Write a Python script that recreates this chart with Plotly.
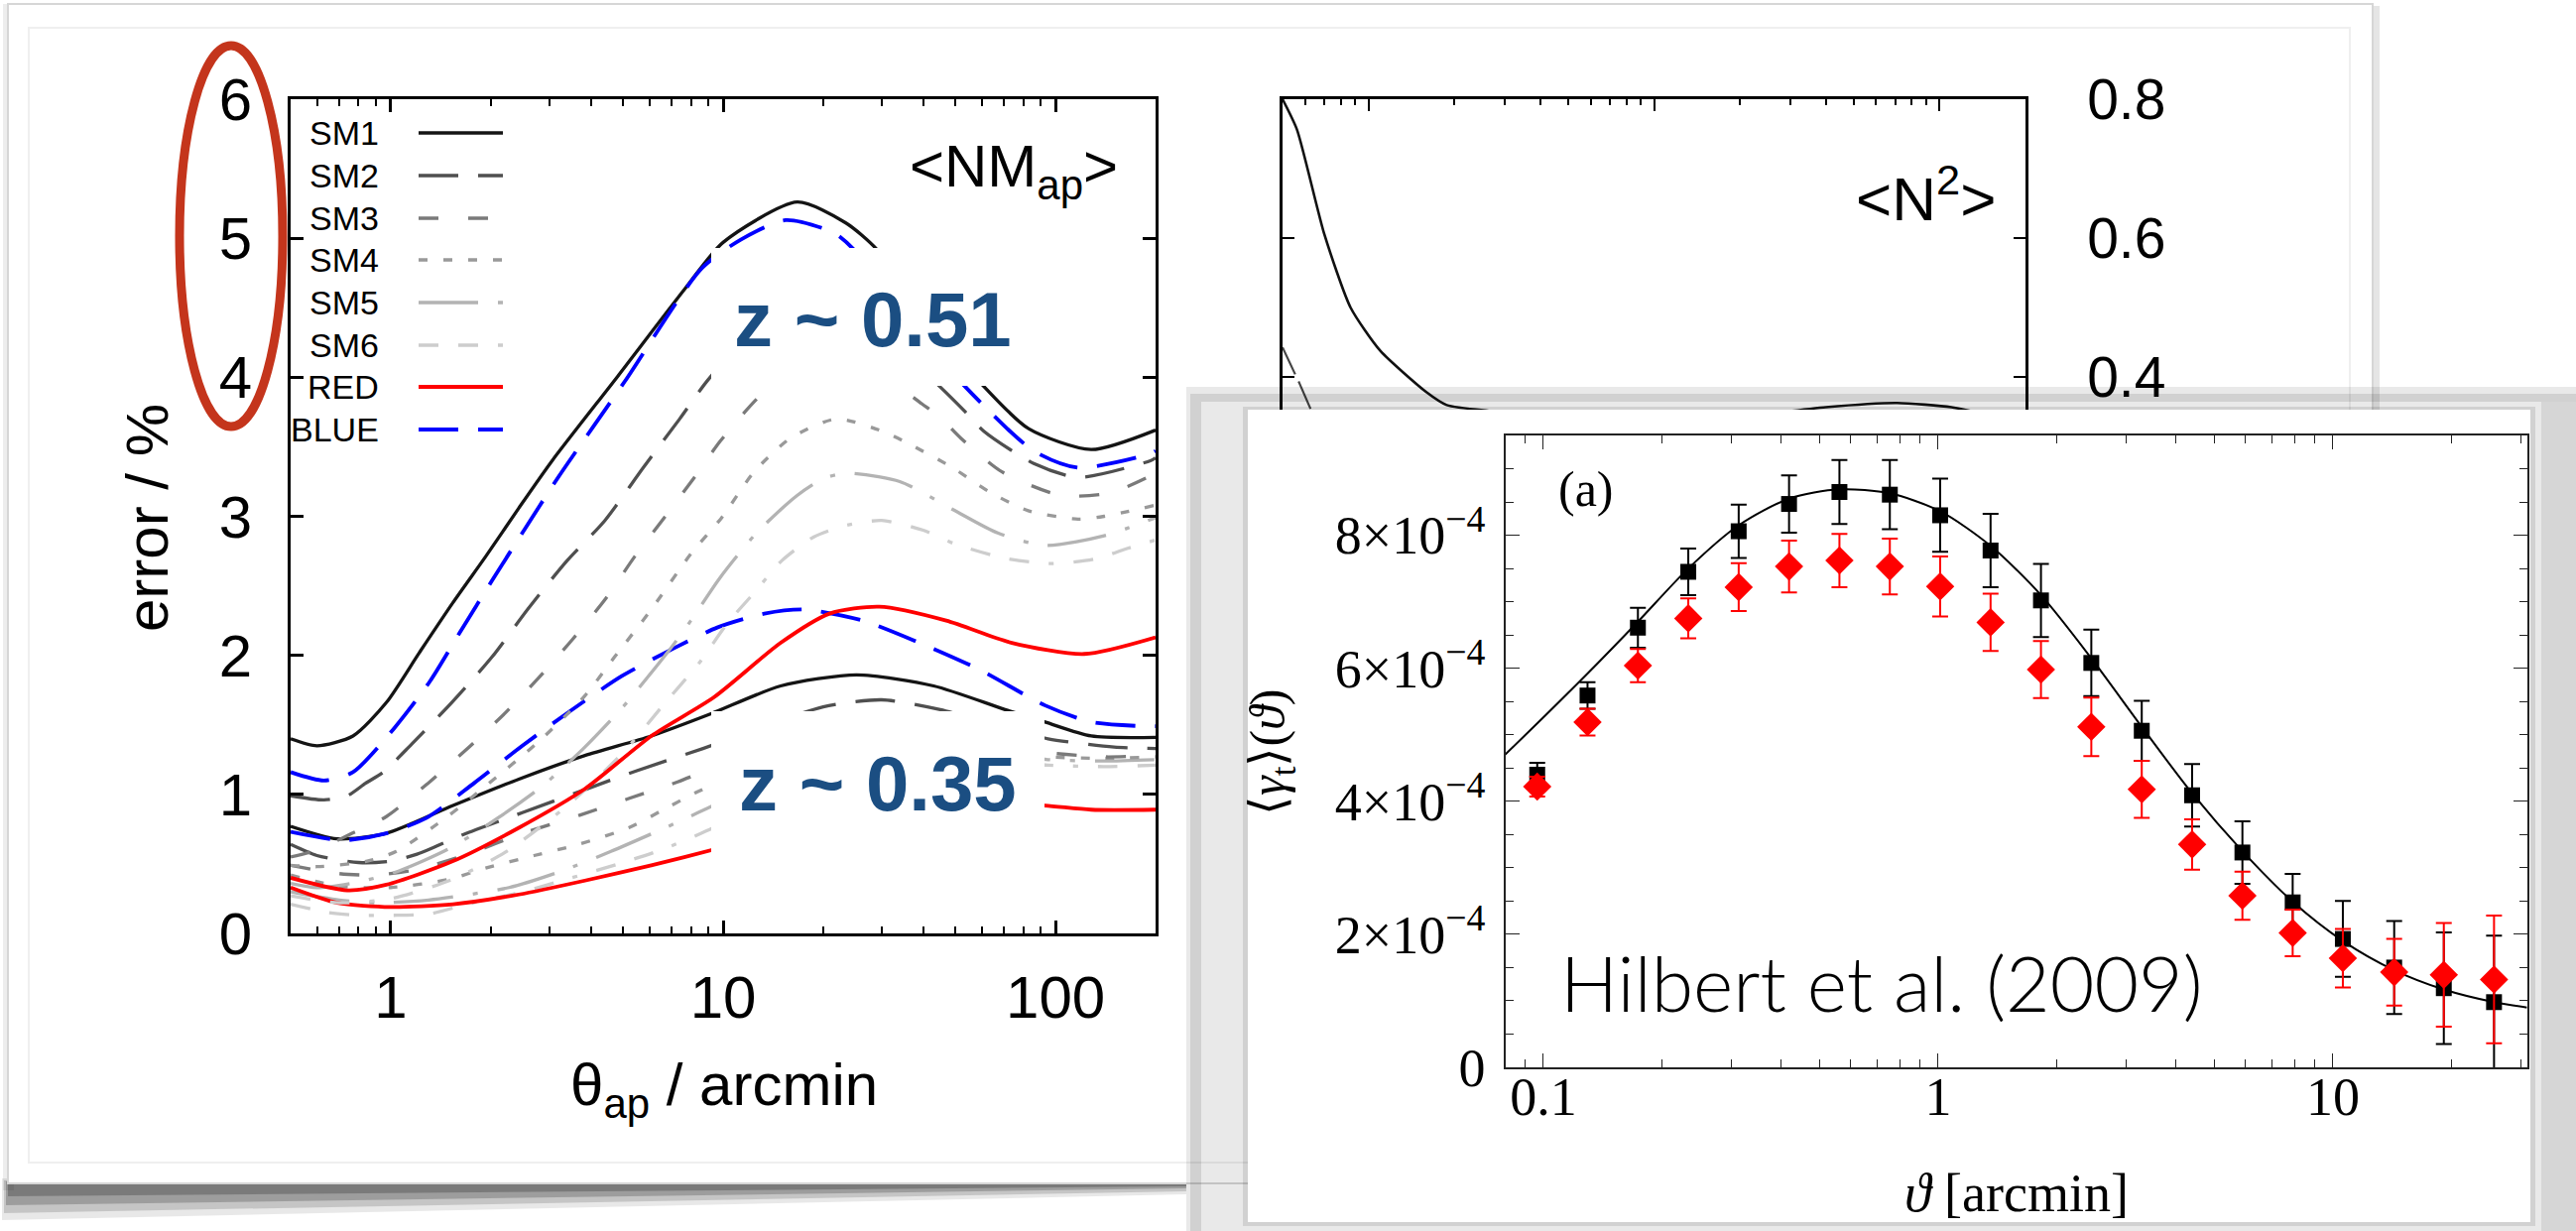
import math
import plotly.graph_objects as go

W, H = 2597, 1241


def fx(X):
    return X / W


def fy(Y):
    return 1 - Y / H


# ---------------- left panel: <NM_ap> error / %  ----------------
# upper group (z ~ 0.51)
SM1_U_X = [0.5, 0.6, 0.77, 0.97, 1.22, 1.54, 1.93, 2.43, 3.06, 4.83, 7.64, 10, 16.7, 23.4, 29, 40, 60, 83, 128, 200]
SM1_U_Y = [1.40, 1.35, 1.42, 1.66, 2.02, 2.38, 2.71, 3.06, 3.40, 4.01, 4.63, 4.97, 5.26, 5.11, 4.92, 4.45, 3.95, 3.63, 3.48, 3.62]
BLUE_U_X = [0.5, 0.63, 0.77, 1.02, 1.31, 1.61, 2.02, 2.55, 3.19, 5.06, 8.6, 11.3, 15.4, 21.5, 24.7, 35, 53.6, 86, 117, 193, 200]
BLUE_U_Y = [1.16, 1.10, 1.16, 1.47, 1.81, 2.16, 2.54, 2.92, 3.28, 3.97, 4.78, 4.99, 5.13, 5.04, 4.92, 4.45, 3.93, 3.47, 3.35, 3.45, 3.47]
SM2_U_X = [0.5, 0.63, 0.74, 0.84, 0.95, 1.155, 1.54, 2.02, 2.6, 3.39, 4.41, 5.75, 7.4, 9.0, 12, 16, 20, 26, 35, 45, 53.6, 61, 86, 117, 193, 200]
SM2_U_Y = [0.99, 0.96, 0.99, 1.08, 1.16, 1.36, 1.67, 1.99, 2.34, 2.68, 2.97, 3.35, 3.70, 3.98, 4.30, 4.48, 4.50, 4.40, 4.17, 3.93, 3.75, 3.61, 3.38, 3.28, 3.40, 3.42]
SM3_U_X = [0.5, 0.6, 0.75, 0.97, 1.28, 1.72, 2.22, 2.79, 3.51, 4.41, 5.42, 6.7, 8.2, 9.8, 12.7, 16, 20, 25, 32, 39.6, 44.6, 52, 69, 104, 147, 193, 200]
SM3_U_Y = [0.55, 0.60, 0.71, 0.84, 1.07, 1.34, 1.59, 1.84, 2.11, 2.40, 2.71, 3.00, 3.28, 3.54, 3.85, 4.05, 4.12, 4.10, 3.97, 3.81, 3.72, 3.56, 3.32, 3.15, 3.17, 3.29, 3.31]
SM4_U_X = [0.5, 0.6, 0.85, 1.04, 1.5, 1.93, 2.79, 3.84, 4.72, 6.08, 8.0, 9.9, 12.4, 15.9, 21.9, 30.3, 36.3, 49, 62.8, 82.8, 117, 140, 200]
SM4_U_Y = [0.49, 0.48, 0.52, 0.59, 0.85, 1.06, 1.38, 1.71, 1.99, 2.33, 2.73, 2.99, 3.32, 3.56, 3.70, 3.61, 3.52, 3.35, 3.18, 3.04, 2.98, 3.00, 3.08]
SM5_U_X = [0.5, 0.6, 0.8, 1.06, 1.5, 2.1, 2.86, 3.8, 5.0, 6.8, 8.0, 9.8, 12.6, 16.7, 20, 23.4, 34, 49, 67, 93, 140, 200]
SM5_U_Y = [0.36, 0.33, 0.37, 0.45, 0.61, 0.83, 1.06, 1.33, 1.63, 2.02, 2.25, 2.56, 2.88, 3.15, 3.27, 3.31, 3.25, 3.05, 2.88, 2.79, 2.86, 2.99]
SM6_U_X = [0.5, 0.7, 1.0, 1.5, 2.2, 3.4, 5.0, 6.7, 8.5, 10.3, 12.4, 15, 18.7, 23, 30, 40, 50, 70, 95, 130, 165, 200]
SM6_U_Y = [0.27, 0.22, 0.25, 0.38, 0.58, 0.92, 1.30, 1.66, 1.95, 2.23, 2.45, 2.68, 2.85, 2.93, 2.97, 2.90, 2.80, 2.70, 2.66, 2.69, 2.77, 2.83]
RED_U_X = [0.5, 0.74, 0.97, 1.54, 2.43, 3.84, 6.08, 9.4, 14.9, 20.9, 29.5, 46.9, 73.9, 122, 200]
RED_U_Y = [0.40, 0.31, 0.35, 0.52, 0.76, 1.04, 1.42, 1.70, 2.09, 2.30, 2.35, 2.25, 2.09, 2.01, 2.13]

# lower group (z ~ 0.35)
SM1_L_X = [0.5, 0.69, 0.97, 1.54, 2.43, 3.84, 6.08, 9.2, 14.9, 25.2, 43, 70.5, 93, 128, 200]
SM1_L_Y = [0.77, 0.68, 0.72, 0.92, 1.11, 1.28, 1.42, 1.58, 1.78, 1.86, 1.78, 1.61, 1.52, 1.42, 1.41]
BLUE_L_X = [0.5, 0.72, 0.97, 1.28, 1.78, 2.49, 3.47, 4.95, 7.1, 9.6, 13.3, 17.5, 26.3, 39, 58.8, 93, 128, 185, 200]
BLUE_L_Y = [0.73, 0.67, 0.72, 0.83, 1.08, 1.35, 1.60, 1.85, 2.05, 2.20, 2.30, 2.33, 2.25, 2.09, 1.90, 1.64, 1.52, 1.49, 1.49]
SM2_L_X = [0.5, 0.6, 0.8, 1.0, 1.2, 1.65, 2.5, 4.0, 5.5, 8.7, 13, 20, 30, 45, 65, 95, 150, 200]
SM2_L_Y = [0.64, 0.56, 0.51, 0.52, 0.57, 0.71, 0.87, 1.05, 1.17, 1.33, 1.48, 1.63, 1.68, 1.61, 1.50, 1.40, 1.34, 1.33]
SM3_L_X = [0.5, 0.7, 0.9, 1.2, 1.7, 2.5, 3.7, 5.2, 7.3, 10, 15, 22, 32, 50, 70, 95, 140, 200]
SM3_L_Y = [0.49, 0.43, 0.42, 0.46, 0.57, 0.72, 0.85, 0.97, 1.09, 1.22, 1.37, 1.47, 1.50, 1.44, 1.36, 1.30, 1.27, 1.28]
SM4_L_X = [0.5, 0.7, 1.0, 1.5, 1.93, 2.7, 3.67, 5.2, 6.5, 8.4, 12, 18, 28, 45, 70, 95, 140, 200]
SM4_L_Y = [0.42, 0.34, 0.33, 0.39, 0.47, 0.56, 0.64, 0.76, 0.88, 1.02, 1.18, 1.32, 1.40, 1.38, 1.31, 1.27, 1.26, 1.27]
SM5_L_X = [0.5, 0.7, 0.9, 1.3, 2.27, 3.28, 4.6, 6.7, 10, 15, 25, 40, 65, 95, 140, 200]
SM5_L_Y = [0.30, 0.24, 0.22, 0.24, 0.33, 0.45, 0.59, 0.76, 0.95, 1.12, 1.30, 1.35, 1.30, 1.25, 1.24, 1.25]
SM6_L_X = [0.5, 0.65, 0.8, 1.0, 1.3, 1.7, 2.5, 3.5, 5.0, 6.5, 8.6, 12, 18, 28, 45, 70, 95, 140, 200]
SM6_L_Y = [0.21, 0.15, 0.13, 0.13, 0.14, 0.21, 0.30, 0.40, 0.51, 0.60, 0.72, 0.88, 1.05, 1.18, 1.24, 1.23, 1.21, 1.20, 1.21]
RED_L_X = [0.5, 0.69, 1.0, 1.54, 2.43, 3.84, 6.08, 9.6, 15, 25, 40, 60, 93, 128, 200]
RED_L_Y = [0.33, 0.22, 0.19, 0.21, 0.28, 0.38, 0.49, 0.61, 0.74, 0.86, 0.93, 0.94, 0.92, 0.89, 0.89]

LEGEND_NAMES = ["SM1", "SM2", "SM3", "SM4", "SM5", "SM6", "RED", "BLUE"]
X_TICKS = [1, 10, 100]
X_TICK_TEXT = ["1", "10", "100"]
X_MINOR = [0.6, 0.7, 0.8, 0.9, 2, 3, 4, 5, 6, 7, 8, 9, 20, 30, 40, 50, 60, 70, 80, 90]

# ---------------- hidden right panel: <N^2> ----------------
N2_A_X = [0.5, 0.562, 0.70, 0.866, 1.10, 1.59, 1.88, 2.61, 3.9, 6.0, 9.0, 14, 24.4, 40, 71, 110, 147, 200]
N2_A_Y = [0.80, 0.756, 0.606, 0.50, 0.438, 0.379, 0.36, 0.352, 0.347, 0.338, 0.333, 0.336, 0.347, 0.357, 0.363, 0.357, 0.346, 0.33]
N2_B_X = [0.5, 0.575, 0.64, 0.70]
N2_B_Y = [0.443, 0.39, 0.346, 0.31]
N2_TICKS = [0.4, 0.6, 0.8]
N2_TICK_TEXT = ["0.4", "0.6", "0.8"]

# ---------------- inset: Hilbert et al. (2009) ----------------
THETA = [0.0965, 0.1294, 0.1736, 0.2329, 0.3125, 0.4192, 0.5624, 0.7546, 1.012, 1.358,
         1.822, 2.444, 3.28, 4.40, 5.90, 7.91, 10.6, 14.3, 19.1, 25.6]
GT_BLACK = [4.40, 5.59, 6.61, 7.45, 8.06, 8.47, 8.65, 8.61, 8.30, 7.77, 7.02, 6.08, 5.06, 4.09, 3.23, 2.48, 1.93, 1.50, 1.19, 0.98]
GT_BLACK_ERR = [0.18, 0.20, 0.30, 0.35, 0.40, 0.43, 0.48, 0.52, 0.55, 0.55, 0.55, 0.50, 0.45, 0.47, 0.47, 0.43, 0.57, 0.70, 0.84, 1.0]
GT_RED = [4.22, 5.19, 6.04, 6.75, 7.22, 7.53, 7.62, 7.53, 7.23, 6.69, 5.98, 5.12, 4.18, 3.35, 2.58, 2.02, 1.64, 1.43, 1.39, 1.32]
GT_RED_ERR = [0.15, 0.20, 0.25, 0.30, 0.36, 0.39, 0.40, 0.42, 0.45, 0.43, 0.43, 0.44, 0.43, 0.38, 0.36, 0.35, 0.44, 0.50, 0.78, 0.96]
MODEL_X = [0.08, 0.0965, 0.1294, 0.1736, 0.2329, 0.3125, 0.4192, 0.5624, 0.7546, 1.012, 1.358,
           1.822, 2.444, 3.28, 4.40, 5.90, 7.91, 10.6, 14.3, 19.1, 25.6, 31]
MODEL_Y = [4.70, 5.17, 5.92, 6.70, 7.50, 8.15, 8.55, 8.69, 8.63, 8.36, 7.84,
           7.10, 6.15, 5.12, 4.12, 3.25, 2.49, 1.90, 1.46, 1.17, 0.98, 0.90]
INSET_YTICKS = [0, 2, 4, 6, 8]
INSET_YTEXT = ["0", "2×10<sup>−4</sup>", "4×10<sup>−4</sup>", "6×10<sup>−4</sup>", "8×10<sup>−4</sup>"]
INSET_XTICKS = [0.1, 1, 10]
INSET_XTEXT = ["0.1", "1", "10"]
INSET_XMINOR = [0.09, 0.2, 0.3, 0.4, 0.5, 0.6, 0.7, 0.8, 0.9, 2, 3, 4, 5, 6, 7, 8, 9, 20, 30]

SANS = "Liberation Sans, Arial, Helvetica, sans-serif"
SERIF = "Liberation Serif, Times New Roman, serif"
ZBLUE = "#1b4e82"

STYLE = {
    "SM1": ("#141414", "solid", 3.3),
    "SM2": ("#4f4f4f", "40px,20px", 3.3),
    "SM3": ("#7a7a7a", "20px,30px", 3.3),
    "SM4": ("#999999", "9px,16px", 3.3),
    "SM5": ("#b3b3b3", "60px,20px,5px,20px", 3.3),
    "SM6": ("#cdcdcd", "20px,20px,20px,20px,5px,20px", 3.3),
    "RED": ("#ff0000", "solid", 3.8),
    "BLUE": ("#0000ff", "40px,20px", 3.8),
}

fig = go.Figure()

upper = {"SM1": (SM1_U_X, SM1_U_Y), "SM2": (SM2_U_X, SM2_U_Y), "SM3": (SM3_U_X, SM3_U_Y),
         "SM4": (SM4_U_X, SM4_U_Y), "SM5": (SM5_U_X, SM5_U_Y), "SM6": (SM6_U_X, SM6_U_Y),
         "RED": (RED_U_X, RED_U_Y), "BLUE": (BLUE_U_X, BLUE_U_Y)}
lower = {"SM1": (SM1_L_X, SM1_L_Y), "SM2": (SM2_L_X, SM2_L_Y), "SM3": (SM3_L_X, SM3_L_Y),
         "SM4": (SM4_L_X, SM4_L_Y), "SM5": (SM5_L_X, SM5_L_Y), "SM6": (SM6_L_X, SM6_L_Y),
         "RED": (RED_L_X, RED_L_Y), "BLUE": (BLUE_L_X, BLUE_L_Y)}

order = ["SM6", "SM5", "SM4", "SM3", "SM2", "SM1", "RED", "BLUE"]
for group in (lower, upper):
    for name in order:
        xs, ys = group[name]
        c, d, w = STYLE[name]
        fig.add_trace(go.Scatter(x=xs, y=ys, mode="lines", xaxis="x", yaxis="y",
                                 line=dict(color=c, dash=d, width=w, shape="spline", smoothing=0.7),
                                 hoverinfo="skip", showlegend=False))

# hidden right panel
fig.add_trace(go.Scatter(x=N2_A_X, y=N2_A_Y, mode="lines", xaxis="x2", yaxis="y2",
                         line=dict(color="#111111", width=2.6, shape="spline", smoothing=0.6),
                         hoverinfo="skip", showlegend=False))
fig.add_trace(go.Scatter(x=N2_B_X, y=N2_B_Y, mode="lines", xaxis="x2", yaxis="y2",
                         line=dict(color="#444444", width=2.2, dash="30px,8px"),
                         hoverinfo="skip", showlegend=False))


# overlay card (full-page pixel axes, drawn above the two background panels)
def rect_trace(x0, y0, x1, y1, color):
    return go.Scatter(x=[x0, x1, x1, x0, x0], y=[y0, y0, y1, y1, y0], mode="lines",
                      fill="toself", fillcolor=color, line=dict(width=0, color=color),
                      xaxis="x3", yaxis="y3", hoverinfo="skip", showlegend=False)


fig.add_trace(rect_trace(1196, 390, 2597, 1241, "rgba(0,0,0,0.085)"))
fig.add_trace(rect_trace(1200, 397, 2597, 405, "rgba(0,0,0,0.10)"))
fig.add_trace(rect_trace(1200, 405, 1211, 1241, "rgba(0,0,0,0.10)"))
fig.add_trace(rect_trace(2562, 405, 2597, 1241, "rgba(0,0,0,0.08)"))
fig.add_trace(rect_trace(1253, 410, 2556, 1236, "rgba(0,0,0,0.10)"))
fig.add_trace(rect_trace(1258, 413, 2551, 1232, "#ffffff"))

# inset traces
fig.add_trace(go.Scatter(x=MODEL_X, y=MODEL_Y, mode="lines", xaxis="x4", yaxis="y4",
                         line=dict(color="black", width=2, shape="spline", smoothing=0.8),
                         hoverinfo="skip", showlegend=False))
fig.add_trace(go.Scatter(x=THETA, y=GT_BLACK, mode="markers", xaxis="x4", yaxis="y4",
                         marker=dict(symbol="square", size=16, color="black", line=dict(width=0)),
                         error_y=dict(type="data", array=GT_BLACK_ERR, color="black", thickness=2, width=8),
                         hoverinfo="skip", showlegend=False))
fig.add_trace(go.Scatter(x=THETA, y=GT_RED, mode="markers", xaxis="x4", yaxis="y4",
                         marker=dict(symbol="diamond", size=22, color="#ff0000", line=dict(width=0)),
                         error_y=dict(type="data", array=GT_RED_ERR, color="#ff0000", thickness=2, width=8),
                         hoverinfo="skip", showlegend=False))

base = dict(showgrid=False, zeroline=False, showline=True, mirror="ticks", ticks="inside",
            automargin=False)

sans60 = dict(family=SANS, size=60, color="black")
serif54 = dict(family=SERIF, size=54, color="black")

fig.update_layout(
    width=W, height=H, autosize=False, margin=dict(l=0, r=0, t=0, b=0),
    template="none", paper_bgcolor="white", plot_bgcolor="rgba(0,0,0,0)",
    showlegend=False, hovermode=False,
    xaxis=dict(type="log", range=[math.log10(0.5), math.log10(200)], domain=[fx(293), fx(1165)],
               anchor="y", tickmode="array", tickvals=X_TICKS, ticktext=X_TICK_TEXT,
               ticklen=13, tickwidth=2.5, tickcolor="black", linecolor="black", linewidth=3,
               tickfont=sans60, ticklabelstandoff=10,
               minor=dict(ticks="inside", ticklen=7, tickwidth=2, tickcolor="black",
                          tickmode="array", tickvals=X_MINOR, showgrid=False), **base),
    yaxis=dict(range=[0, 6], domain=[fy(941), fy(100)], anchor="x", tickmode="linear", tick0=0, dtick=1,
               ticklen=13, tickwidth=2.5, tickcolor="black", linecolor="black", linewidth=3,
               tickfont=sans60, ticklabelstandoff=24, **base),
    xaxis2=dict(type="log", range=[math.log10(0.5), math.log10(200)], domain=[fx(1293), fx(2042)],
                anchor="y2", tickmode="array", tickvals=X_TICKS, showticklabels=False,
                ticklen=12, tickwidth=2, tickcolor="black", linecolor="black", linewidth=2.5,
                minor=dict(ticks="inside", ticklen=6, tickwidth=1.6, tickcolor="black",
                           tickmode="array", tickvals=X_MINOR, showgrid=False), **base),
    yaxis2=dict(range=[-0.4, 0.8], domain=[fy(941), fy(100)], anchor="x2", side="right",
                tickmode="array", tickvals=N2_TICKS, ticktext=N2_TICK_TEXT,
                ticklen=12, tickwidth=2, tickcolor="black", linecolor="black", linewidth=2.5,
                tickfont=dict(family=SANS, size=57, color="black"), ticklabelstandoff=48, **base),
    xaxis3=dict(range=[0, W], domain=[0, 1], anchor="y3", visible=False, fixedrange=True),
    yaxis3=dict(range=[H, 0], domain=[0, 1], anchor="x3", visible=False, fixedrange=True),
    xaxis4=dict(type="log", range=[math.log10(0.0803), math.log10(31.1)], domain=[fx(1518), fx(2548)],
                anchor="y4", tickmode="array", tickvals=INSET_XTICKS, ticktext=INSET_XTEXT,
                ticklen=14, tickwidth=1.3, tickcolor="#222222", linecolor="#222222", linewidth=1.6,
                tickfont=serif54, ticklabelstandoff=-19,
                minor=dict(ticks="inside", ticklen=8, tickwidth=1.1, tickcolor="#222222",
                           tickmode="array", tickvals=INSET_XMINOR, showgrid=False), **base),
    yaxis4=dict(range=[0, 9.5], domain=[fy(1076), fy(439)], anchor="x4",
                tickmode="array", tickvals=INSET_YTICKS, ticktext=INSET_YTEXT,
                ticklen=14, tickwidth=1.3, tickcolor="#222222", linecolor="#222222", linewidth=1.6,
                tickfont=serif54, ticklabelstandoff=8,
                minor=dict(ticks="inside", ticklen=8, tickwidth=1.1, tickcolor="#222222",
                           dtick=0.5, tick0=0, showgrid=False), **base),
)

shapes = []


def prect(x0, y0, x1, y1, **kw):
    d = dict(type="rect", xref="paper", yref="paper", x0=fx(x0), x1=fx(x1), y0=fy(y1), y1=fy(y0))
    d.update(kw)
    return d


def ppath(points, **kw):
    s = "M " + " L ".join(f"{fx(a):.5f},{fy(b):.5f}" for a, b in points) + " Z"
    d = dict(type="path", xref="paper", yref="paper", path=s)
    d.update(kw)
    return d


# slide card (behind everything) with a curled shadow below it
shapes.append(ppath([(2, 1188), (1196, 1188), (1196, 1204), (2, 1230)],
                    fillcolor="rgba(0,0,0,0.09)", line=dict(width=0), layer="below"))
shapes.append(ppath([(4, 1190), (1196, 1190), (1196, 1201), (4, 1223)],
                    fillcolor="rgba(0,0,0,0.15)", line=dict(width=0), layer="below"))
shapes.append(ppath([(6, 1191), (1196, 1191), (1196, 1198), (6, 1215)],
                    fillcolor="rgba(0,0,0,0.20)", line=dict(width=0), layer="below"))
shapes.append(ppath([(8, 1192), (1196, 1192), (1196, 1196), (8, 1206)],
                    fillcolor="rgba(0,0,0,0.22)", line=dict(width=0), layer="below"))
shapes.append(prect(3, 4, 14, 1200, fillcolor="rgba(0,0,0,0.07)", line=dict(width=0), layer="below"))
shapes.append(prect(2390, 6, 2399, 1195, fillcolor="rgba(0,0,0,0.10)", line=dict(width=0), layer="below"))
shapes.append(prect(8, 4, 2392, 1193, fillcolor="white", line=dict(color="#d6d6d6", width=2), layer="below"))
shapes.append(prect(29, 28, 2369, 1172, line=dict(color="#efefef", width=2), layer="below"))

# white masks behind the redshift labels
shapes.append(prect(717, 250, 1000, 389, fillcolor="white", line=dict(width=0), layer="above"))
shapes.append(prect(717, 717, 1053, 928, fillcolor="white", line=dict(width=0), layer="above"))

# legend line samples
LEG_Y = [134, 177, 220, 262, 305, 348, 390, 433]
for name, yy in zip(LEGEND_NAMES, LEG_Y):
    c, d, w = STYLE[name]
    shapes.append(dict(type="line", xref="paper", yref="paper", x0=fx(422), x1=fx(507),
                       y0=fy(yy), y1=fy(yy), line=dict(color=c, dash=d, width=w), layer="above"))

# hand-drawn red ellipse around the tick labels
shapes.append(dict(type="circle", xref="paper", yref="paper", x0=fx(181), x1=fx(285),
                   y0=fy(430), y1=fy(46), line=dict(color="#c4351c", width=9), layer="above"))

ann = []


def note(X, Y, text, size, family=SANS, color="black", xanchor="center", yanchor="middle", angle=0,
         weight=None):
    f = dict(family=family, size=size, color=color)
    if weight is not None:
        f["weight"] = weight
    ann.append(dict(x=fx(X), y=fy(Y), xref="paper", yref="paper", text=text, showarrow=False,
                    font=f, xanchor=xanchor, yanchor=yanchor, textangle=angle))


for name, yy in zip(LEGEND_NAMES, LEG_Y):
    note(384, yy, name, 34, xanchor="right")

note(148, 522, "error / %", 60, angle=-90)
note(730, 1098, "θ<sub>ap</sub> / arcmin", 60)
note(1022, 172, "&lt;NM<sub>ap</sub>&gt;", 60)
note(880, 322, "z ~ 0.51", 78, color=ZBLUE, weight="bold")
note(885, 790, "z ~ 0.35", 78, color=ZBLUE, weight="bold")
note(1941, 196, "&lt;N<sup>2</sup>&gt;", 62)

note(1599, 493, "(a)", 50, family=SERIF)
note(1897, 990, "Hilbert et al. (2009)", 77, family="Lato, Liberation Sans, sans-serif", weight=300)
note(1282, 759, "⟨<i>γ</i><sub>t</sub>⟩(<i>ϑ</i>)", 50, family=SERIF, angle=-90)
note(2033, 1203, "<i>ϑ</i> [arcmin]", 54, family=SERIF)

fig.update_layout(shapes=shapes, annotations=ann)
fig.write_html("out.html")
